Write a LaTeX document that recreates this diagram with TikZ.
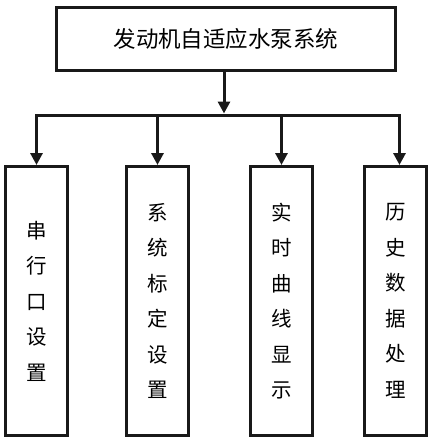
\documentclass[tikz,border=0pt]{standalone}
\usepackage{fontspec}
\newfontfamily\cjk{Noto Sans CJK SC}
\usetikzlibrary{arrows.meta}
\begin{document}
\begin{tikzpicture}[x=1pt,y=1pt,
  frame/.style={draw=black!90,line width=3pt,inner sep=0pt},
  topbox/.style={frame,minimum width=339pt,minimum height=63pt,font=\cjk\fontsize{22.5}{26}\selectfont},
  subbox/.style={frame,minimum width=62pt,minimum height=269pt,align=center,font=\cjk\fontsize{20.5}{35.5}\selectfont},
  conn/.style={line width=3pt,black!90},
  arr/.style={conn,-{Triangle[width=12pt,length=12pt]}}]
\useasboundingbox (0,0) rectangle (435,-445);
\node[topbox] (top) at (226,-39) {发动机自适应水泵系统};
\node[subbox] (b1) at (36.5,-301) {串\\行\\口\\设\\置};
\node[subbox] (b2) at (157.5,-301) {系\\统\\标\\定\\设\\置};
\node[subbox] (b3) at (281.5,-301) {实\\时\\曲\\线\\显\\示};
\node[subbox] (b4) at (395.5,-301) {历\\史\\数\\据\\处\\理};
\coordinate (j) at (224,-115);
\coordinate (e4) at ([xshift=4pt]b4.north);
\draw[arr] (top.south -| j) -- ([yshift=1.5pt]j);
\draw[conn,line cap=rect] (b1.north |- j) -- (e4 |- j);
\draw[arr] (b1.north |- j) -- (b1.north);
\draw[arr] (b2.north |- j) -- (b2.north);
\draw[arr] (b3.north |- j) -- (b3.north);
\draw[arr] (e4 |- j) -- (e4);
\end{tikzpicture}
\end{document}
